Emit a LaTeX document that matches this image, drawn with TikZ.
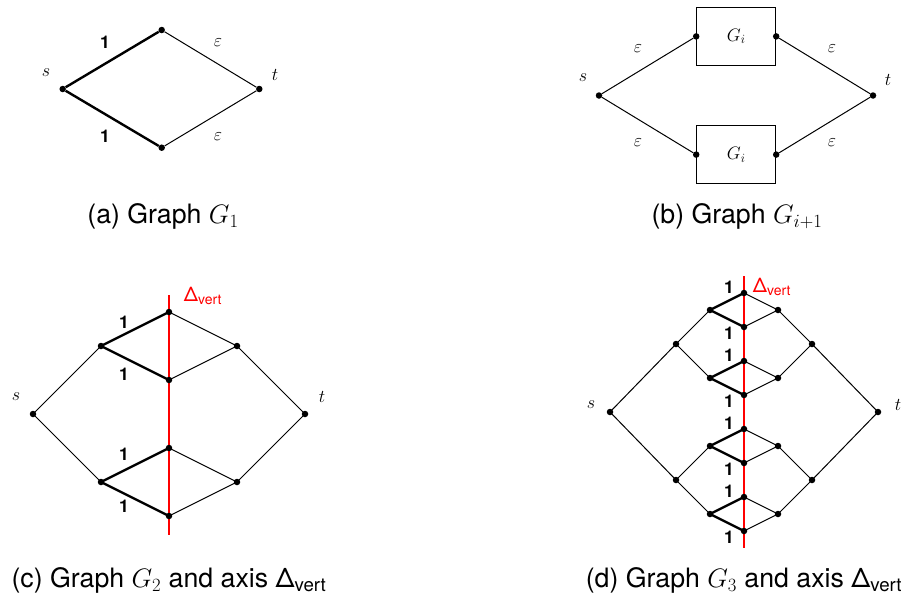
\documentclass[tikz,border=0pt]{standalone}
\usepackage{fix-cm}
\usepackage{fontspec}
\setmainfont{TeX Gyre Heros}
\tikzset{
  dot/.style={circle,fill=black,inner sep=0pt,minimum size=6.5pt},
  thinedge/.style={line width=1pt},
  heavy/.style={line width=2.4pt},
  axisline/.style={draw=red,line width=1.6pt},
  one/.style={font=\fontsize{17.5}{17.5}\selectfont\bfseries},
  lbl/.style={font=\fontsize{18}{18}\selectfont},
  captext/.style={font=\fontsize{26.7}{30}\selectfont},
  axlbl/.style={text=red,font=\fontsize{20}{20}\selectfont},
  gbox/.style={draw,line width=1pt,minimum width=79pt,minimum height=58.7pt,inner sep=0pt,font=\fontsize{18}{18}\selectfont},
}
\begin{document}
\begin{tikzpicture}[x=1pt,y=-1pt]
\useasboundingbox (0,0) rectangle (908,600);

% ---------- (a) ----------
\node[dot] (as) at (62.7,89) {};
\node[dot] (atop) at (161.7,30) {};
\node[dot] (abot) at (161.7,147.7) {};
\node[dot] (at) at (259.3,89) {};
\draw[heavy] (as) -- (atop);
\draw[heavy] (as) -- (abot);
\draw[thinedge] (atop) -- (at);
\draw[thinedge] (abot) -- (at);
\node[one] (a1u) at (105,42.7) {1};
\node[one] (a1d) at (105,136.7) {1};
\node[lbl] (aeu) at (218,42.7) {$\varepsilon$};
\node[lbl] (aed) at (218,136.7) {$\varepsilon$};
\node[lbl] (asl) at (46,73) {$s$};
\node[lbl] (atl) at (275,75) {$t$};
\node[captext] (capa) at (163,216) {(a) Graph $G_1$};

% ---------- (b) ----------
\node[dot] (bs) at (599,95.5) {};
\node[dot] (bt) at (873,95.5) {};
\node[gbox] (B1) at (736.2,36.4) {$G_i$};
\node[gbox] (B2) at (736.2,154.6) {$G_i$};
\node[dot] (b1l) at (B1.west) {};
\node[dot] (b1r) at (B1.east) {};
\node[dot] (b2l) at (B2.west) {};
\node[dot] (b2r) at (B2.east) {};
\draw[thinedge] (bs) -- (b1l);
\draw[thinedge] (bs) -- (b2l);
\draw[thinedge] (b1r) -- (bt);
\draw[thinedge] (b2r) -- (bt);
\node[lbl] (be1) at (638,49) {$\varepsilon$};
\node[lbl] (be2) at (832,49) {$\varepsilon$};
\node[lbl] (be3) at (638,143) {$\varepsilon$};
\node[lbl] (be4) at (832,143) {$\varepsilon$};
\node[lbl] (bsl) at (583,78) {$s$};
\node[lbl] (btl) at (888,80) {$t$};
\node[captext] (capb) at (737,216) {(b) Graph $G_{i+1}$};

% ---------- (c) ----------
\coordinate (cs) at (33,414);
\coordinate (c1) at (101,346);
\coordinate (c2) at (169,312);
\coordinate (c3) at (169,380);
\coordinate (c4) at (237,346);
\coordinate (ct) at (305,414);
\coordinate (c5) at (101,482);
\coordinate (c6) at (169,448);
\coordinate (c7) at (169,516);
\coordinate (c8) at (237,482);
\coordinate (cax1) at (169,295);
\coordinate (cax2) at (169,535);
\draw[thinedge] (cs) -- (c1) (cs) -- (c5) (c2) -- (c4) (c3) -- (c4) (c4) -- (ct)
            (c6) -- (c8) (c7) -- (c8) (c8) -- (ct);
\draw[heavy] (c1) -- (c2) (c1) -- (c3) (c5) -- (c6) (c5) -- (c7);
\draw[axisline] (cax1) -- (cax2);
\foreach \p in {cs,c1,c2,c3,c4,ct,c5,c6,c7,c8} \node[dot] at (\p) {};
\node[one] (c1a) at (124,322) {1};
\node[one] (c1b) at (124,374) {1};
\node[one] (c1c) at (124,454) {1};
\node[one] (c1d) at (124,506) {1};
\node[axlbl] (cdl) at (203,296) {Δ\textsubscript{vert}};
\node[lbl] (csl) at (16,397) {$s$};
\node[lbl] (ctl) at (322,397) {$t$};
\node[captext] (capc) at (169,580) {(c) Graph $G_2$ and axis Δ\textsubscript{vert}};

% ---------- (d) ----------
\coordinate (ds) at (610,412);
\coordinate (dt) at (878,412);
\coordinate (dL1) at (676,344);
\coordinate (dR1) at (812,344);
\coordinate (dL2) at (676,480);
\coordinate (dR2) at (812,480);
\coordinate (daL) at (710,310); \coordinate (daT) at (744,293); \coordinate (daB) at (744,327); \coordinate (daR) at (778,310);
\coordinate (dbL) at (710,378); \coordinate (dbT) at (744,361); \coordinate (dbB) at (744,395); \coordinate (dbR) at (778,378);
\coordinate (dcL) at (710,446); \coordinate (dcT) at (744,429); \coordinate (dcB) at (744,463); \coordinate (dcR) at (778,446);
\coordinate (ddL) at (710,514); \coordinate (ddT) at (744,497); \coordinate (ddB) at (744,531); \coordinate (ddR) at (778,514);
\coordinate (dax1) at (744,276);
\coordinate (dax2) at (744,548);
\draw[thinedge] (ds) -- (dL1) (ds) -- (dL2) (dR1) -- (dt) (dR2) -- (dt)
  (dL1) -- (daL) (dL1) -- (dbL) (daR) -- (dR1) (dbR) -- (dR1)
  (dL2) -- (dcL) (dL2) -- (ddL) (dcR) -- (dR2) (ddR) -- (dR2);
\foreach \g in {a,b,c,d} {
  \draw[heavy] (d\g L) -- (d\g T) (d\g L) -- (d\g B);
  \draw[thinedge] (d\g T) -- (d\g R) (d\g B) -- (d\g R);
}
\draw[axisline] (dax1) -- (dax2);
\foreach \p in {ds,dt,dL1,dR1,dL2,dR2,daL,daT,daB,daR,dbL,dbT,dbB,dbR,dcL,dcT,dcB,dcR,ddL,ddT,ddB,ddR} \node[dot] at (\p) {};
\node[one] (d1a) at (729,287) {1};
\node[one] (d1b) at (729,333) {1};
\node[one] (d1c) at (729,355) {1};
\node[one] (d1d) at (729,401) {1};
\node[one] (d1e) at (729,423) {1};
\node[one] (d1f) at (729,469) {1};
\node[one] (d1g) at (729,491) {1};
\node[one] (d1h) at (729,537) {1};
\node[axlbl] (ddl) at (772,287) {Δ\textsubscript{vert}};
\node[lbl] (dsl) at (591,405) {$s$};
\node[lbl] (dtl) at (898,405) {$t$};
\node[captext] (capd) at (744,580) {(d) Graph $G_3$ and axis Δ\textsubscript{vert}};
\end{tikzpicture}
\end{document}
